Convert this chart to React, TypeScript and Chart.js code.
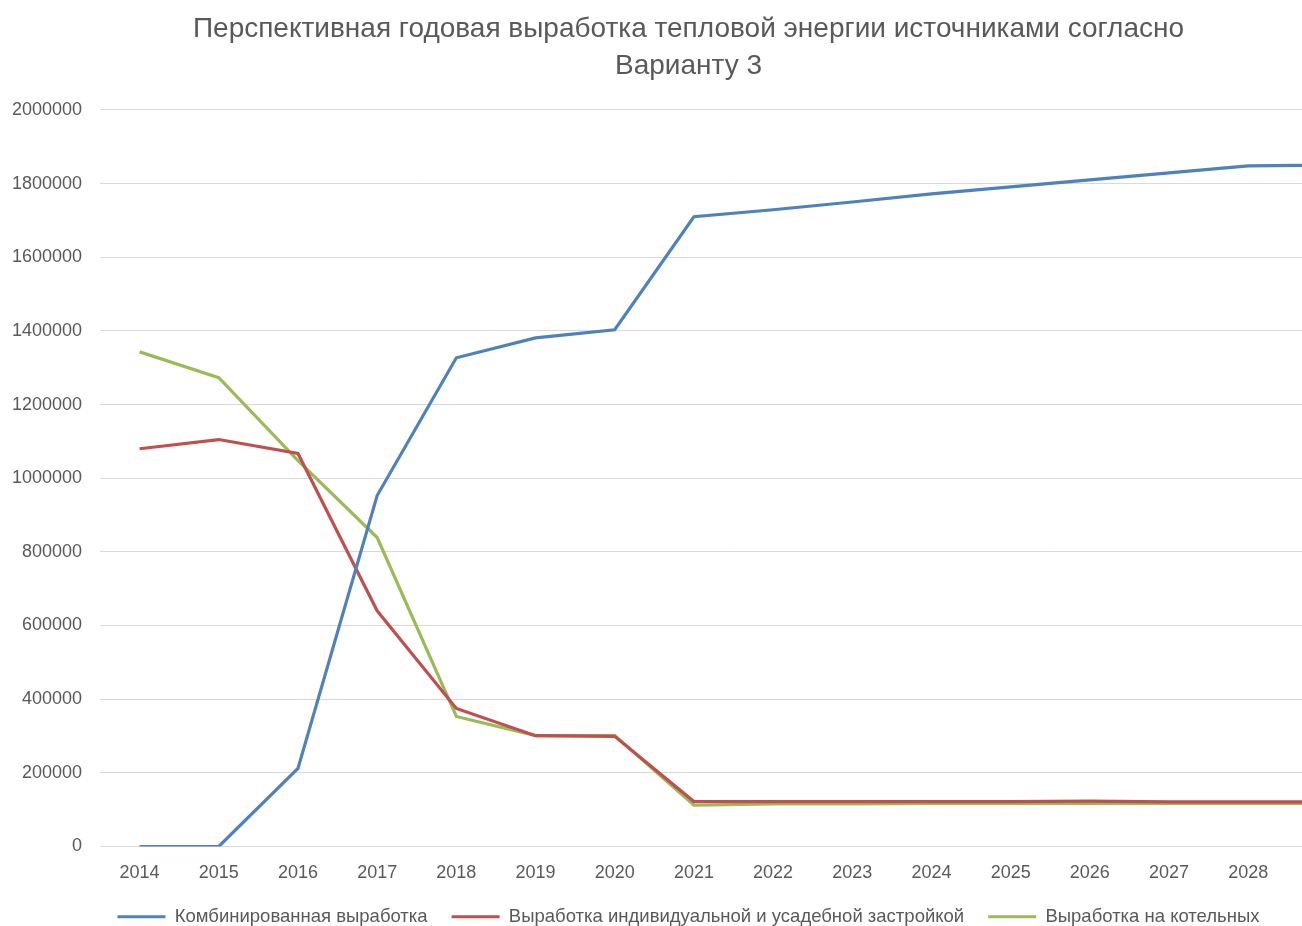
import React, { useEffect, useRef } from "react";
import { Chart, registerables } from "chart.js";

Chart.register(...registerables);

const titleLines = [
  "Перспективная годовая выработка тепловой энергии источниками согласно",
  "Варианту 3",
];

const years = [
  "2014", "2015", "2016", "2017", "2018", "2019", "2020", "2021",
  "2022", "2023", "2024", "2025", "2026", "2027", "2028", "2029",
];

const combined = [
  0, 0, 212000, 953000, 1327000, 1381000, 1403000, 1710000,
  1729000, 1750000, 1772000, 1791000, 1810000, 1829000, 1848000, 1850000,
];

const individual = [
  1080000, 1105000, 1067000, 640000, 375000, 301000, 299000, 122000,
  122000, 122000, 122000, 122000, 123000, 121000, 121000, 121000,
];

const boilers = [
  1343000, 1273000, 1048000, 839000, 353000, 301000, 301000, 112000,
  116000, 116000, 117000, 117000, 117000, 117000, 117000, 117000,
];

const seriesNames = [
  "Комбинированная выработка",
  "Выработка индивидуальной и усадебной застройкой",
  "Выработка на котельных",
];

const colors = ["#4F81BD", "#C0504D", "#9BBB59"];

const FONT = "'Liberation Sans', Arial, sans-serif";

export default function App() {
  const ref = useRef<HTMLCanvasElement | null>(null);

  useEffect(() => {
    document.documentElement.style.overflow = "hidden";
    document.body.style.margin = "0";
    document.body.style.overflow = "hidden";
    const canvas = ref.current;
    if (!canvas) return;
    const chart = new Chart(canvas, {
      type: "line",
      data: {
        labels: years,
        datasets: [combined, individual, boilers].map((d, i) => ({
          label: seriesNames[i],
          data: d,
          borderColor: colors[i],
          backgroundColor: colors[i],
          borderWidth: 3.2,
          pointRadius: 0,
          tension: 0,
          fill: false,
        })),
      },
      options: {
        animation: false,
        responsive: false,
        maintainAspectRatio: false,
        layout: { padding: { left: 10, right: 13, top: 0, bottom: 0 } },
        plugins: {
          title: {
            display: true,
            text: titleLines,
            color: "#595959",
            font: { family: FONT, size: 28, weight: "normal", lineHeight: 1.32 },
            padding: { top: 11, bottom: 25 },
          },
          legend: {
            position: "bottom",
            labels: {
              color: "#595959",
              font: { family: FONT, size: 18.5 },
              boxWidth: 48,
              boxHeight: 3,
              padding: 24,
              generateLabels: (c: any) =>
                Chart.defaults.plugins.legend.labels
                  .generateLabels(c)
                  .map((l: any) => ({ ...l, lineWidth: 0 })),
            },
          },
          tooltip: { enabled: false },
        },
        scales: {
          x: {
            type: "category",
            offset: true,
            grid: { display: false, drawTicks: false },
            border: { display: true, color: "#d9d9d9" },
            ticks: {
              color: "#595959",
              font: { family: FONT, size: 18 },
              maxRotation: 0,
              autoSkip: false,
              padding: 16,
            },
            afterFit: (scale: any) => {
              scale.height = 37;
            },
          },
          y: {
            min: 0,
            max: 2000000,
            grid: { color: "#d9d9d9", drawTicks: false },
            border: { display: false },
            ticks: {
              stepSize: 200000,
              color: "#595959",
              font: { family: FONT, size: 18 },
              padding: 18,
              callback: (v: any) => String(v),
            },
            afterFit: (scale: any) => {
              scale.width = 90;
            },
          },
        },
      },
    });
    return () => chart.destroy();
  }, []);

  return (
    <div style={{ position: "absolute", left: 0, top: 0, width: 1380, height: 936, background: "#fff" }}>
      <canvas ref={ref} width={1380} height={936} style={{ display: "block" }} />
    </div>
  );
}
